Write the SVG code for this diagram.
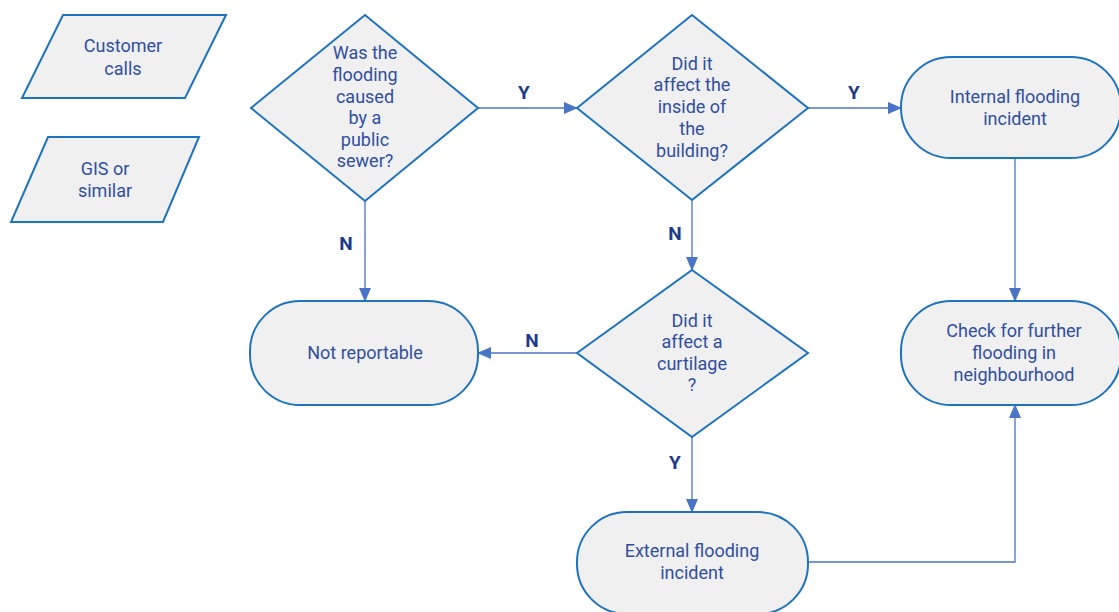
<svg xmlns="http://www.w3.org/2000/svg" width="1119" height="612" viewBox="0 0 1119 612">
<style>
.shape{fill:#f0f0f0;stroke:#1c74c0;stroke-width:2}
.t{font-family:Roboto,"Liberation Sans",sans-serif;font-size:18px;fill:#2e4fa3;text-anchor:middle}
.lbl{font-family:Roboto,"Liberation Sans",sans-serif;font-size:19px;font-weight:bold;fill:#1d3a8a;text-anchor:middle}
.c{fill:none;stroke:#4a74c6;stroke-width:1.3}
</style>
<defs>
<marker id="ah" markerWidth="14" markerHeight="12" refX="13" refY="6" orient="auto" markerUnits="userSpaceOnUse">
<path d="M0,0 L14,6 L0,12 Z" fill="#4a74c6"/>
</marker>
</defs>
<rect width="1119" height="612" fill="#ffffff"/>
<g id="connectors">
<path class="c" d="M478,108 H577" marker-end="url(#ah)"/>
<path class="c" d="M808,108 H901" marker-end="url(#ah)"/>
<path class="c" d="M365,201 V301" marker-end="url(#ah)"/>
<path class="c" d="M692,200 V270" marker-end="url(#ah)"/>
<path class="c" d="M577,353 H478" marker-end="url(#ah)"/>
<path class="c" d="M692,437 V512" marker-end="url(#ah)"/>
<path class="c" d="M1015,158 V301" marker-end="url(#ah)"/>
<path class="c" d="M808,562 H1015 V405" marker-end="url(#ah)"/>
<text class="lbl" x="524" y="99">Y</text>
<text class="lbl" x="854" y="99">Y</text>
<text class="lbl" x="346" y="250">N</text>
<text class="lbl" x="675" y="240">N</text>
<text class="lbl" x="532" y="347">N</text>
<text class="lbl" x="675" y="469">Y</text>
</g>
<g id="customer-calls">
<polygon class="shape" points="63,15 226,15 185,98 22,98"/>
<text class="t" x="123" y="52">Customer</text>
<text class="t" x="123" y="75">calls</text>
</g>
<g id="gis">
<polygon class="shape" points="48,137 199,137 163,222 11,222"/>
<text class="t" x="105" y="175">GIS or</text>
<text class="t" x="105" y="197">similar</text>
</g>
<g id="q-public-sewer">
<polygon class="shape" points="365,15 478,108 365,201 251,108"/>
<text class="t" x="365" y="59">Was the</text>
<text class="t" x="365" y="81">flooding</text>
<text class="t" x="365" y="103">caused</text>
<text class="t" x="365" y="124">by a</text>
<text class="t" x="365" y="146">public</text>
<text class="t" x="365" y="167">sewer?</text>
</g>
<g id="q-inside-building">
<polygon class="shape" points="692,15 808,108 692,200 577,108"/>
<text class="t" x="692" y="70">Did it</text>
<text class="t" x="692" y="91">affect the</text>
<text class="t" x="692" y="113">inside of</text>
<text class="t" x="692" y="135">the</text>
<text class="t" x="692" y="157">building?</text>
</g>
<g id="internal-incident">
<rect class="shape" x="901" y="57" width="220" height="101" rx="50" ry="50"/>
<text class="t" x="1015" y="103">Internal flooding</text>
<text class="t" x="1015" y="125">incident</text>
</g>
<g id="q-curtilage">
<polygon class="shape" points="692,270 808,353 692,437 577,353"/>
<text class="t" x="692" y="327">Did it</text>
<text class="t" x="692" y="348">affect a</text>
<text class="t" x="692" y="370">curtilage</text>
<text class="t" x="692" y="391">?</text>
</g>
<g id="not-reportable">
<rect class="shape" x="250" y="301" width="228" height="104" rx="50" ry="50"/>
<text class="t" x="365" y="359">Not reportable</text>
</g>
<g id="check-neighbourhood">
<rect class="shape" x="901" y="301" width="220" height="104" rx="50" ry="50"/>
<text class="t" x="1014" y="337">Check for further</text>
<text class="t" x="1014" y="359">flooding in</text>
<text class="t" x="1014" y="381">neighbourhood</text>
</g>
<g id="external-incident">
<rect class="shape" x="577" y="512" width="231" height="102" rx="50" ry="50"/>
<text class="t" x="692" y="557">External flooding</text>
<text class="t" x="692" y="579">incident</text>
</g>
</svg>
